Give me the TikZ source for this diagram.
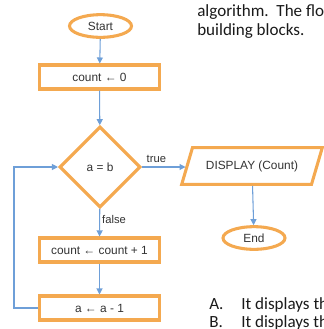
\documentclass[tikz,border=0pt]{standalone}
\usepackage{fontspec}
\setmainfont{Carlito}
\newfontfamily\chartfont{Liberation Sans}
\usetikzlibrary{shapes.geometric,arrows.meta}
\definecolor{boxorange}{HTML}{F4A950}
\definecolor{lineblue}{HTML}{6E9FD8}
\definecolor{labelgray}{HTML}{333333}
\definecolor{pagetext}{HTML}{1A1A1A}

\begin{document}
\begin{tikzpicture}[x=0.75pt,y=-0.75pt,
    block/.style={draw=boxorange,line width=2.3pt,fill=white,text=labelgray,
        font=\chartfont\fontsize{8.9}{10}\selectfont,inner sep=0pt},
    process/.style={block,rectangle,minimum width=90pt,minimum height=18pt},
    terminal/.style={block,ellipse,minimum width=46.5pt,minimum height=17pt},
    flow/.style={draw=lineblue,line width=0.8pt,-{Triangle[length=4.5pt,width=4.5pt]}},
    branch/.style={text=labelgray,font=\chartfont\fontsize{8.4}{10}\selectfont,inner sep=1.5pt},
    doctext/.style={anchor=base west,inner sep=0pt,text=pagetext,
        font=\fontsize{12.8}{15}\selectfont}]
    \clip (0,0) rectangle (324,329);

    % page text around the chart
    \node[doctext] (para1) at (197,16) {algorithm.\ \ The flo};
    \node[doctext] (para2) at (197,35) {building blocks.};
    \foreach \o/\y in {A/309,B/327} {
        \node[doctext] (opt\o) at (209,\y) {\makebox[24pt][l]{\o.}It displays th};
    }

    % chart
    \node[terminal] (start) at (100.5,26) {Start};
    \node[process] (init) at (99.5,77) {count ← 0};
    \node[block,diamond,minimum width=60.75pt,minimum height=60.75pt] (test) at (100,167) {a = b};
    \node[block,trapezium,trapezium left angle=53,trapezium right angle=127,
        trapezium stretches=true,minimum width=106pt,minimum height=27.5pt] (show) at (252,166) {DISPLAY (Count)};
    \node[terminal] (stop) at (254,238) {End};
    \node[process] (incr) at (99.5,250) {count ← count + 1};
    \node[process] (decr) at (99.5,308) {a ← a - 1};

    \draw[flow] (start) -- (init);
    \draw[flow] (init) -- (test);
    \draw[flow] (test.east) -- node[branch,above=1.5pt,pos=0.33] {true} (test.east -| show.west);
    \draw[flow] (show) -- (stop);
    \draw[flow] (test) -- node[branch,right,pos=0.38] {false} (incr);
    \draw[flow] (incr) -- (decr);
    \draw[flow] (decr.west) -- ++(-24,0) |- (test.west);
\end{tikzpicture}
\end{document}
